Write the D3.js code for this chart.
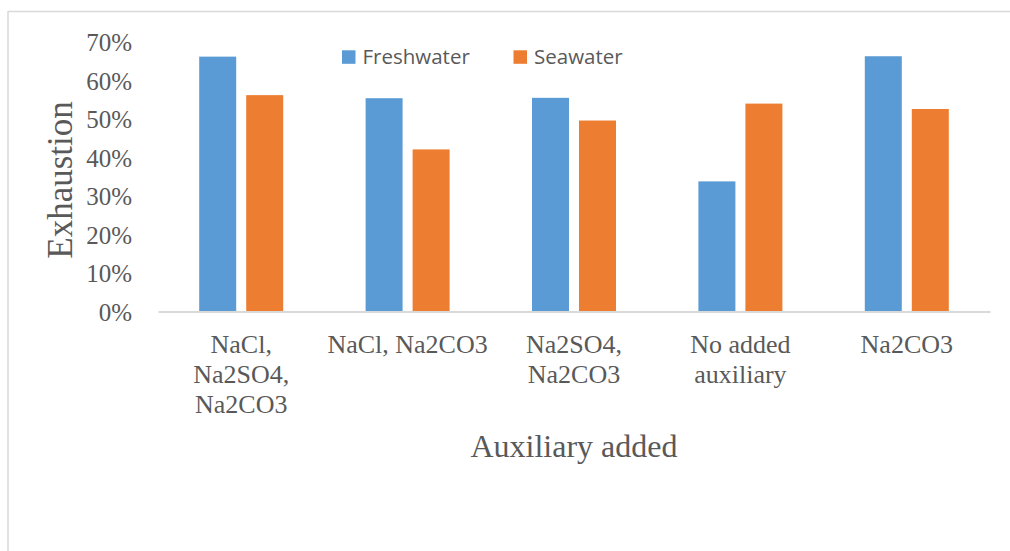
<!DOCTYPE html>
<html>
<head>
<meta charset="utf-8">
<script src="https://cdn.jsdelivr.net/npm/d3@7"></script>
<style>
  html, body { margin: 0; padding: 0; background: #fff; }
  svg { display: block; }
</style>
</head>
<body>
<svg id="chart" width="1010" height="551"></svg>
<script>
const categories = [
  ["NaCl,", "Na2SO4,", "Na2CO3"],
  ["NaCl, Na2CO3"],
  ["Na2SO4,", "Na2CO3"],
  ["No added", "auxiliary"],
  ["Na2CO3"]
];
const seriesNames = ["Freshwater", "Seawater"];
const freshwater = [0.662, 0.554, 0.555, 0.338, 0.663];
const seawater = [0.562, 0.421, 0.496, 0.540, 0.526];
const yTicks = [0, 0.1, 0.2, 0.3, 0.4, 0.5, 0.6, 0.7];
const colors = ["#5b9bd5", "#ed7d31"];
const yTitle = "Exhaustion";
const xTitle = "Auxiliary added";

const svg = d3.select("#chart");
const textColor = "#595959";
const serif = "'Liberation Serif', 'Times New Roman', serif";

// frame lines (partial border as in reference)
svg.append("line").attr("x1", 8).attr("x2", 1010).attr("y1", 11.5).attr("y2", 11.5)
  .attr("stroke", "#d9d9d9").attr("stroke-width", 1.5);
svg.append("line").attr("x1", 8).attr("x2", 8).attr("y1", 11).attr("y2", 551)
  .attr("stroke", "#d9d9d9").attr("stroke-width", 1.5);

const catKeys = categories.map((c, i) => i);
const x0 = d3.scaleBand().domain(catKeys).range([158, 990]).padding(0);
const groupW = 84;
const x1 = d3.scaleBand().domain(seriesNames).range([0, groupW]).paddingInner(0.213).paddingOuter(0);
const y = d3.scaleLinear().domain([0, 0.7]).range([311.5, 42]);

// y axis labels
const yAxis = d3.axisLeft(y).tickValues(yTicks).tickFormat(d3.format(".0%")).tickSize(0).tickPadding(0);
const yg = svg.append("g").attr("transform", "translate(132,0)").call(yAxis);
yg.select(".domain").remove();
yg.selectAll("text")
  .attr("font-family", serif).attr("font-size", 25).attr("fill", textColor)
  .attr("x", 0).attr("dy", "0.34em");

// bars
const data = catKeys.map(i => ({ i, vals: [freshwater[i], seawater[i]] }));
const groups = svg.append("g").selectAll("g").data(data).join("g")
  .attr("transform", d => `translate(${x0(d.i) + (x0.bandwidth() - groupW) / 2},0)`);
groups.selectAll("rect").data(d => d.vals.map((v, k) => ({ v, k })))
  .join("rect")
  .attr("x", d => x1(seriesNames[d.k]))
  .attr("width", x1.bandwidth())
  .attr("y", d => y(d.v))
  .attr("height", d => y(0) - y(d.v))
  .attr("fill", d => colors[d.k]);

// x axis baseline
const xAxis = d3.axisBottom(x0).tickSize(0).tickFormat("");
const xg = svg.append("g").attr("transform", `translate(0,${y(0)})`).call(xAxis);
xg.select(".domain").attr("stroke", "#d9d9d9").attr("stroke-width", 2);
xg.selectAll(".tick text").remove();

// category labels
const labG = svg.append("g");
categories.forEach((lines, i) => {
  const t = labG.append("text")
    .attr("x", x0(i) + x0.bandwidth() / 2)
    .attr("y", 352.5)
    .attr("text-anchor", "middle")
    .attr("font-family", serif).attr("font-size", 26).attr("fill", textColor);
  lines.forEach((ln, j) => {
    t.append("tspan").attr("x", x0(i) + x0.bandwidth() / 2).attr("y", 352.5 + j * 30.2).text(ln);
  });
});

// axis titles
svg.append("text")
  .attr("x", 574).attr("y", 456.5)
  .attr("text-anchor", "middle")
  .attr("font-family", serif).attr("font-size", 32).attr("fill", textColor)
  .text(xTitle);
svg.append("text")
  .attr("transform", "translate(71.5,180) rotate(-90)")
  .attr("text-anchor", "middle")
  .attr("font-family", serif).attr("font-size", 35).attr("fill", textColor)
  .text(yTitle);

// legend
const legendX = [342, 513.5];
const lg = svg.append("g");
seriesNames.forEach((s, k) => {
  lg.append("rect").attr("x", legendX[k]).attr("y", 50.3).attr("width", 13.5).attr("height", 13.5).attr("fill", colors[k]);
  lg.append("text").attr("x", legendX[k] + 20.5).attr("y", 64)
    .attr("font-family", "'Open Sans', sans-serif").attr("font-size", 20.5).attr("fill", textColor)
    .text(s);
});
</script>
</body>
</html>
